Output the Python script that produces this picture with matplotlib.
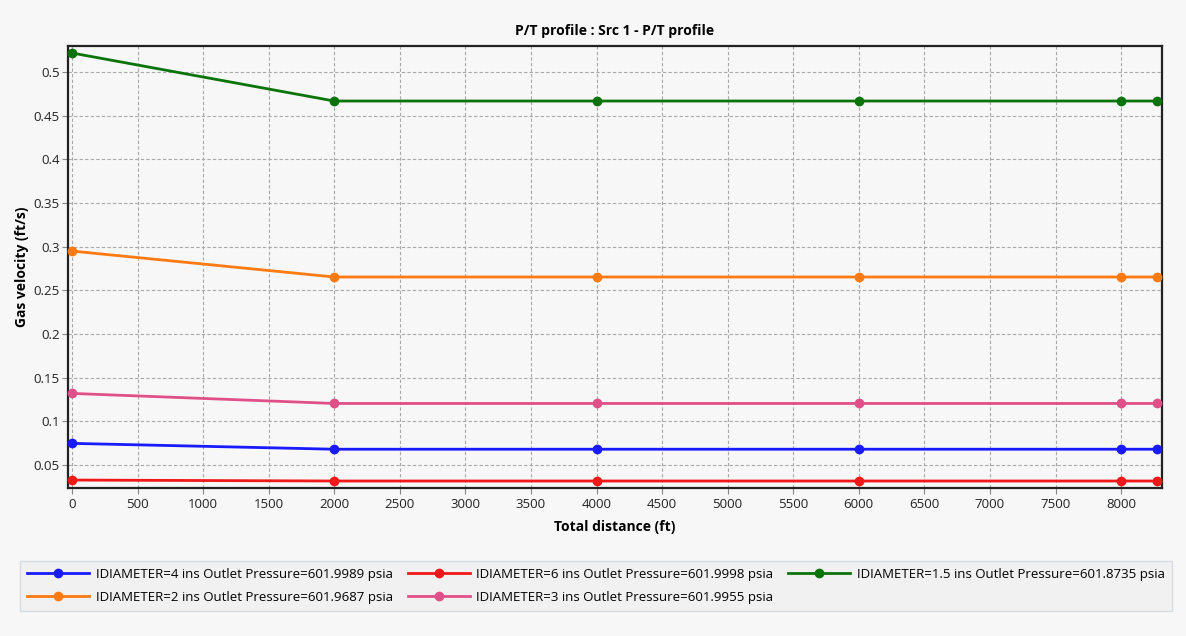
import matplotlib
matplotlib.use('Agg')
import matplotlib.pyplot as plt
from matplotlib.ticker import MultipleLocator, FuncFormatter

# --- data ---
distance = [0, 2000, 4000, 6000, 8000, 8275]

vel_d4 = [0.0748, 0.0681, 0.0681, 0.0681, 0.0681, 0.0681]
vel_d6 = [0.0328, 0.0317, 0.0317, 0.0317, 0.0317, 0.0317]
vel_d15 = [0.5218, 0.4668, 0.4668, 0.4668, 0.4668, 0.4668]
vel_d2 = [0.2950, 0.2653, 0.2653, 0.2653, 0.2653, 0.2653]
vel_d3 = [0.1320, 0.1205, 0.1205, 0.1205, 0.1205, 0.1205]

labels = [
    "IDIAMETER=4 ins Outlet Pressure=601.9989 psia",
    "IDIAMETER=6 ins Outlet Pressure=601.9998 psia",
    "IDIAMETER=1.5 ins Outlet Pressure=601.8735 psia",
    "IDIAMETER=2 ins Outlet Pressure=601.9687 psia",
    "IDIAMETER=3 ins Outlet Pressure=601.9955 psia",
]
colors = ["#1a1aff", "#f01818", "#0a730a", "#ff7a10", "#e05088"]

plt.rcParams['font.family'] = ['Open Sans', 'DejaVu Sans']

bg = "#f7f7f7"
fig = plt.figure(figsize=(11.86, 6.36), dpi=100, facecolor=bg)
ax = fig.add_axes([68 / 1186, 1 - 488 / 636, (1162 - 68) / 1186, (488 - 46) / 636])
ax.set_facecolor(bg)

series = [vel_d4, vel_d6, vel_d15, vel_d2, vel_d3]
handles = []
for vals, c, lab in zip(series, colors, labels):
    h, = ax.plot(distance, vals, color=c, lw=2, marker='o', markersize=6,
                 label=lab, clip_on=False, zorder=3)
    handles.append(h)

ax.set_xlim(-30, 8312)
ax.set_ylim(0.0237, 0.5298)
ax.xaxis.set_major_locator(MultipleLocator(500))
ax.yaxis.set_major_locator(MultipleLocator(0.05))
ax.yaxis.set_major_formatter(FuncFormatter(lambda v, p: f"{v:.2f}".rstrip('0').rstrip('.')))
ax.grid(True, linestyle=(0, (3, 2)), color='#a8a8a8', lw=0.8)
ax.tick_params(labelsize=9.5, colors='#222222', length=4, color='#888888')
ax.tick_params(axis='y', pad=2)

for s in ax.spines.values():
    s.set_color('#222222')
    s.set_linewidth(1.6)

ax.set_title("P/T profile : Src 1 - P/T profile", fontsize=10, fontweight='bold', pad=8)
ax.set_xlabel("Total distance (ft)", fontsize=10, fontweight='bold', labelpad=6)
ax.set_ylabel("Gas velocity (ft/s)", fontsize=10, fontweight='bold')
ax.yaxis.set_label_coords(-0.036, 0.5)

order = [0, 3, 1, 4, 2]
leg = fig.legend([handles[i] for i in order], [labels[i] for i in order],
                 loc='center', bbox_to_anchor=(596 / 1186, 1 - 586 / 636), ncol=3,
                 fontsize=9.5, frameon=True, fancybox=False, handlelength=4.7,
                 columnspacing=1.1, handletextpad=0.5, borderpad=0.55,
                 labelspacing=0.75, borderaxespad=0)
leg.get_frame().set_edgecolor('#cfd6e0')
leg.get_frame().set_facecolor('#f0f0f0')
leg.get_frame().set_linewidth(1)

fig.savefig("out.png", dpi=100, facecolor=bg)
